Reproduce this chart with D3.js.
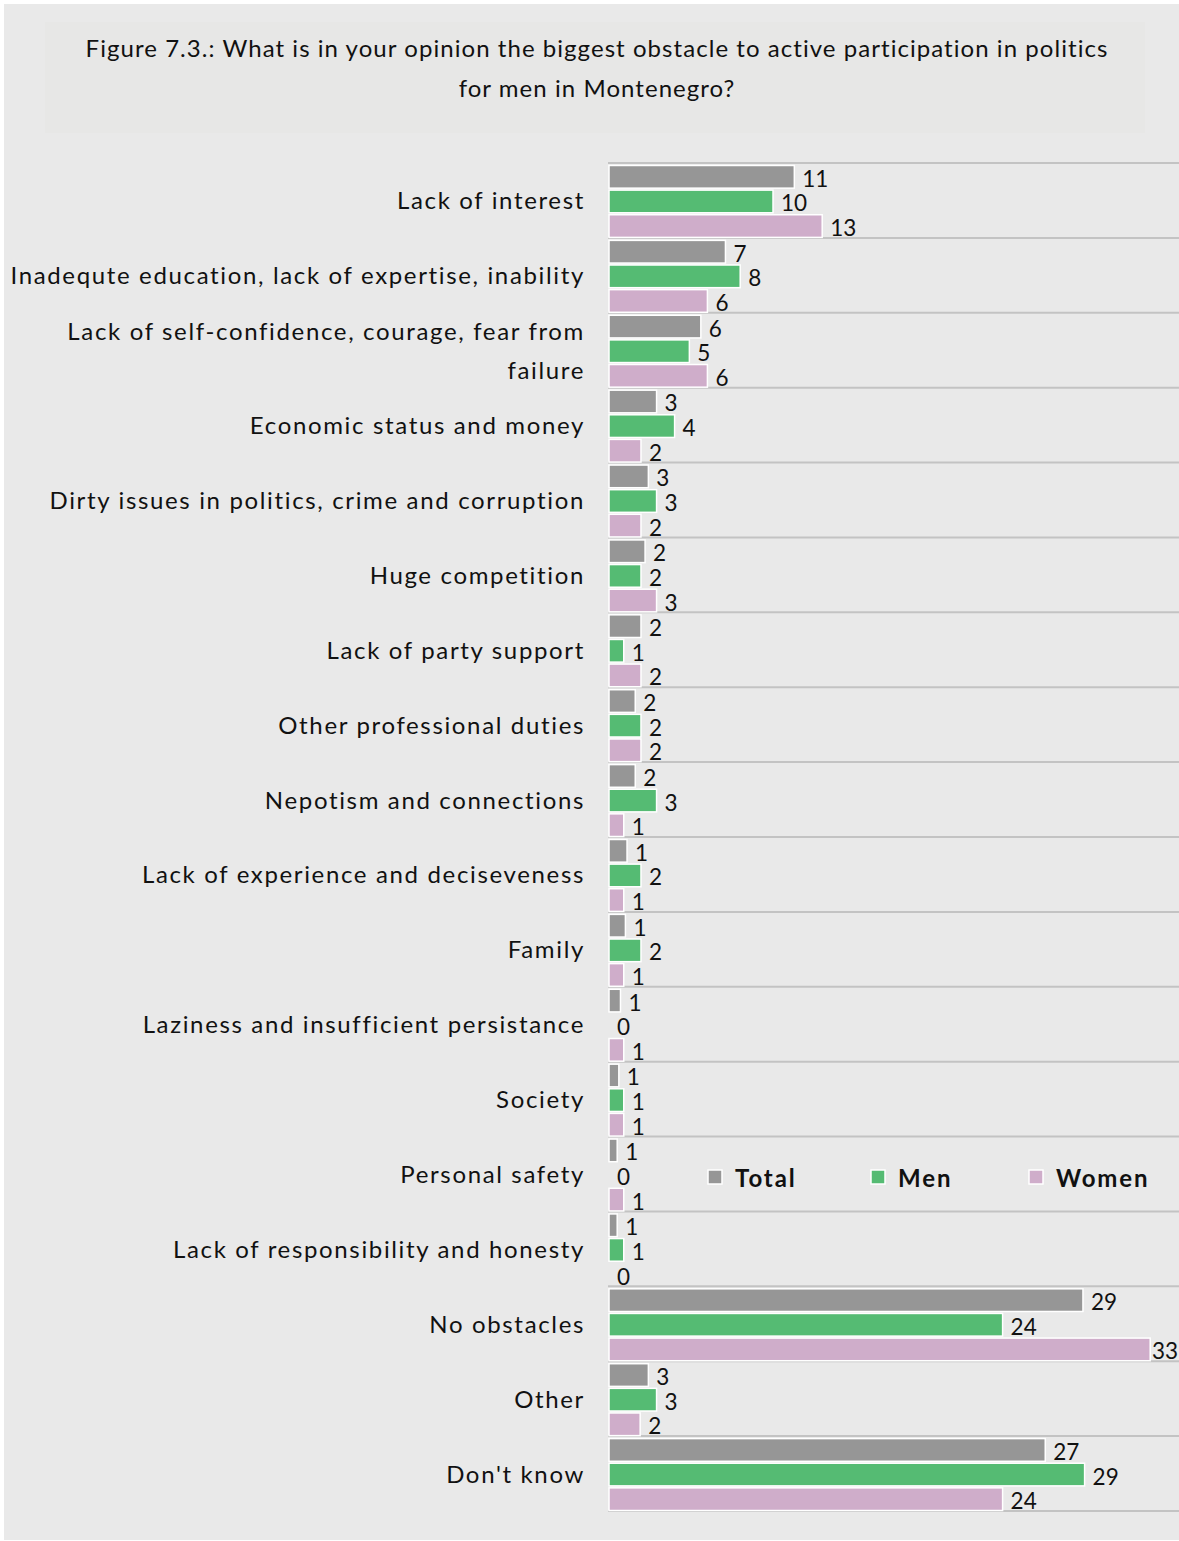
<!DOCTYPE html>
<html>
<head>
<meta charset="utf-8">
<script src="https://cdn.jsdelivr.net/npm/d3@7"></script>
<style>
  body { margin: 0; background: #fff; }
  svg { display: block; font-family: Lato, "Open Sans", sans-serif; }
</style>
</head>
<body>
<svg id="chart" width="1179" height="1541"></svg>
<script>
const titleLines = [
  "Figure 7.3.: What is in your opinion the biggest obstacle to active participation in politics",
  "for men in Montenegro?"
];

const categories = [
  ["Lack of interest"],
  ["Inadequte education, lack of expertise, inability"],
  ["Lack of self-confidence, courage, fear from", "failure"],
  ["Economic status and money"],
  ["Dirty issues in politics, crime and corruption"],
  ["Huge competition"],
  ["Lack of party support"],
  ["Other professional duties"],
  ["Nepotism and connections"],
  ["Lack of experience and deciseveness"],
  ["Family"],
  ["Laziness and insufficient persistance"],
  ["Society"],
  ["Personal safety"],
  ["Lack of responsibility and honesty"],
  ["No obstacles"],
  ["Other"],
  ["Don't know"]
];

const seriesNames = ["Total", "Men", "Women"];
const seriesColors = ["#969696", "#55bb73", "#cfadca"];

// bar lengths
const totalValues = [11.3, 7.1, 5.6, 2.9, 2.4, 2.2, 1.95, 1.6, 1.6, 1.1, 1.0, 0.7, 0.6, 0.5, 0.5, 28.9, 2.4, 26.6];
const menValues   = [10.0, 8.0, 4.9, 4.0, 2.9, 1.95, 0.9, 1.95, 2.9, 1.95, 1.95, 0, 0.9, 0, 0.9, 24.0, 2.9, 29.0];
const womenValues = [13.0, 6.0, 6.0, 1.95, 1.95, 2.9, 1.95, 1.95, 0.9, 0.9, 0.9, 0.9, 0.9, 0.9, 0, 33.0, 1.9, 24.0];

// printed data labels
const totalLabels = [11, 7, 6, 3, 3, 2, 2, 2, 2, 1, 1, 1, 1, 1, 1, 29, 3, 27];
const menLabels   = [10, 8, 5, 4, 3, 2, 1, 2, 3, 2, 2, 0, 1, 0, 1, 24, 3, 29];
const womenLabels = [13, 6, 6, 2, 2, 3, 2, 2, 1, 1, 1, 1, 1, 1, 0, 33, 2, 24];

const allValues = [totalValues, menValues, womenValues];
const allLabels = [totalLabels, menLabels, womenLabels];

const svg = d3.select("#chart");
const W = 1179, H = 1541;

// panel background
svg.append("rect").attr("x", 4).attr("y", 4).attr("width", W - 4).attr("height", H - 5)
  .attr("fill", "#e9e9e9");
svg.append("rect").attr("x", 45).attr("y", 22).attr("width", 1100).attr("height", 111)
  .attr("fill", "#e7e7e6");

svg.append("g").selectAll("text")
  .data(titleLines)
  .join("text")
  .attr("x", 597)
  .attr("y", (d, i) => 57 + i * 40)
  .attr("text-anchor", "middle")
  .attr("font-size", 24)
  .attr("letter-spacing", 1.05)
  .attr("fill", "#111")
  .text(d => d);

const x = d3.scaleLinear().domain([0, 35]).range([609, 609 + 35 * 16.4]);
const y = d3.scaleBand().domain(d3.range(categories.length)).range([163, 1511]);
const ySub = d3.scaleBand().domain(d3.range(3)).range([2, y.bandwidth()]).paddingInner(0.08).paddingOuter(0.02);

// gridlines at band edges
const edges = d3.range(categories.length + 1).map(i => i < categories.length ? y(i) : y(i - 1) + y.bandwidth());
svg.append("g").selectAll("line")
  .data(edges)
  .join("line")
  .attr("x1", 608).attr("x2", W)
  .attr("y1", d => d).attr("y2", d => d)
  .attr("stroke", "#c3c3c3")
  .attr("stroke-width", 2);

// category labels
const cat = svg.append("g").selectAll("text")
  .data(categories)
  .join("text")
  .attr("text-anchor", "end")
  .attr("font-size", 24)
  .attr("letter-spacing", 1.65)
  .attr("fill", "#111");
cat.each(function(lines, i) {
  const cy = y(i) + y.bandwidth() / 2;
  d3.select(this).selectAll("tspan")
    .data(lines)
    .join("tspan")
    .attr("x", 585)
    .attr("y", (d, j) => cy + 9 + (j - (lines.length - 1) / 2) * 39)
    .text(d => d);
});

// bars
const groups = svg.append("g").selectAll("g")
  .data(categories)
  .join("g")
  .attr("transform", (d, i) => `translate(0,${y(i)})`);

groups.each(function(c, i) {
  const g = d3.select(this);
  const rows = seriesNames.map((s, k) => ({ k, v: allValues[k][i], lab: allLabels[k][i] }));
  g.selectAll("rect")
    .data(rows.filter(r => r.v > 0))
    .join("rect")
    .attr("x", x(0))
    .attr("y", r => ySub(r.k))
    .attr("width", r => x(r.v) - x(0))
    .attr("height", ySub.bandwidth())
    .attr("fill", r => seriesColors[r.k])
    .attr("stroke", "#fff")
    .attr("stroke-width", 1.5);
  g.selectAll("text")
    .data(rows)
    .join("text")
    .attr("x", r => x(r.v) + 8)
    .attr("y", r => ySub(r.k) + ySub.bandwidth() / 2 + 10)
    .attr("font-size", 22.5)
    .attr("fill", "#111")
    .text(r => r.lab)
    .attr("x", function(r) {
      // keep label inside the frame, like the office chart squeezes it
      const w = this.getComputedTextLength();
      return Math.min(x(r.v) + 8, W - w - 1);
    });
});

// legend
const legendX = [708, 871, 1029];
const legend = svg.append("g").selectAll("g")
  .data(seriesNames)
  .join("g")
  .attr("transform", (d, i) => `translate(${legendX[i]},1170)`);
legend.append("rect")
  .attr("width", 14).attr("height", 14)
  .attr("fill", (d, i) => seriesColors[i])
  .attr("stroke", "#fff").attr("stroke-width", 1.5);
legend.append("text")
  .attr("x", 27).attr("y", 17)
  .attr("font-size", 24)
  .attr("font-weight", "bold")
  .attr("letter-spacing", 1.9)
  .attr("fill", "#111")
  .text(d => d);
</script>
</body>
</html>
